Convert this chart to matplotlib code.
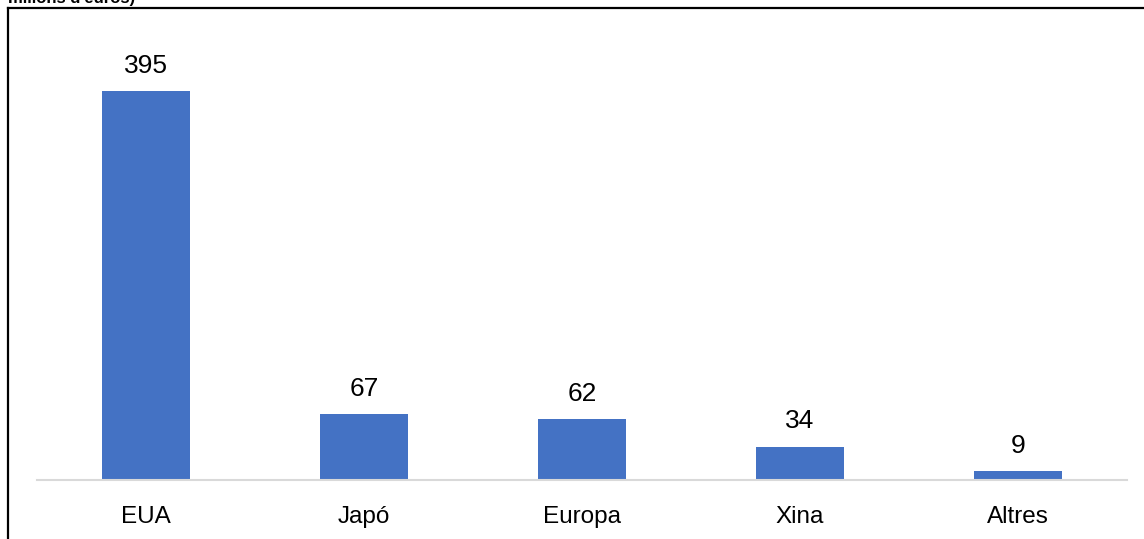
import matplotlib.pyplot as plt
from matplotlib.lines import Line2D

categories = ["EUA", "Japó", "Europa", "Xina", "Altres"]
values = [395, 67, 62, 34, 9]

plt.rcParams['font.family'] = ['Liberation Sans', 'DejaVu Sans']

W, H = 1144, 539
fig = plt.figure(figsize=(W / 100, H / 100), dpi=100, facecolor='white')
ax = fig.add_axes([37 / W, 1 - 480 / H, 1090 / W, 450 / H])

x = range(len(categories))
bars = ax.bar(x, values, width=0.4, color='#4472C4')
for b, v in zip(bars, values):
    ax.text(b.get_x() + b.get_width() / 2, v + 13.5, str(v),
            ha='center', va='bottom', fontsize=19)

ax.set_xlim(-0.5, len(categories) - 0.5)
ax.set_ylim(0, 457)
ax.set_xticks(list(x))
ax.set_xticklabels(categories, fontsize=17.5)
ax.tick_params(axis='x', length=0, pad=19)
ax.set_yticks([])
for s in ['top', 'right', 'left']:
    ax.spines[s].set_visible(False)
ax.spines['bottom'].set_color('#d9d9d9')
ax.spines['bottom'].set_linewidth(1.5)

# cut-off frame and title
fig.add_artist(Line2D([7.5 / W, 1], [1 - 7.5 / H, 1 - 7.5 / H], color='black', lw=1.6))
fig.add_artist(Line2D([7.5 / W, 7.5 / W], [0, 1 - 7.5 / H], color='black', lw=1.6))
fig.text(8 / W, 1 - 3 / H, "milions d'euros)", fontsize=12, fontweight='bold', va='baseline')

fig.savefig('out.png', dpi=100)
